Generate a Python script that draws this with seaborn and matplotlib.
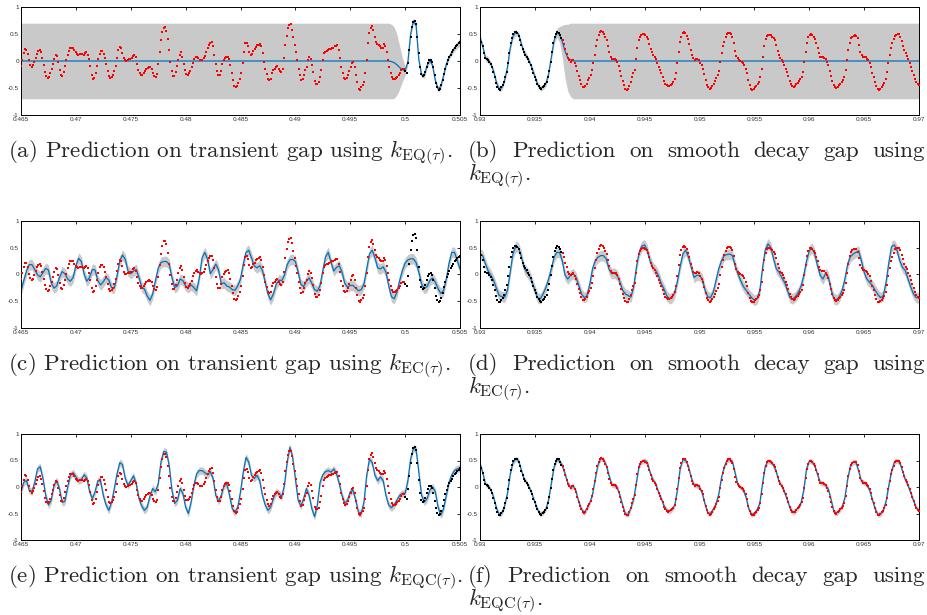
import numpy as np
import matplotlib
matplotlib.use('Agg')
import matplotlib.pyplot as plt
import seaborn as sns

# ---------------- data ----------------
# transient gap recording, 0.465 .. 0.505 s (training window starts at 0.5 s)
sig_left = [
    -0.09, 0.02, 0.14, 0.22, 0.21, 0.13, 0.01, -0.07, -0.11, -0.08,
    -0.01, 0.06, 0.13, 0.18, 0.20, 0.16, 0.05, -0.08, -0.20, -0.28,
    -0.31, -0.29, -0.23, -0.14, -0.05, 0.04, 0.11, 0.09, -0.02, -0.16,
    -0.26, -0.27, -0.21, -0.10, 0.01, 0.11, 0.19, 0.24, 0.25, 0.24,
    0.20, 0.16, 0.13, 0.12, 0.13, 0.13, 0.13, 0.12, 0.14, 0.16,
    0.12, 0.03, -0.10, -0.25, -0.33, -0.31, -0.22, -0.10, 0.03, 0.13,
    0.18, 0.18, 0.13, 0.05, -0.06, -0.19, -0.28, -0.31, -0.29, -0.25,
    -0.19, -0.09, 0.06, 0.20, 0.26, 0.25, 0.15, 0.05, 0.01, 0.00,
    0.02, 0.03, 0.04, 0.05, 0.09, 0.11, 0.07, -0.05, -0.16, -0.23,
    -0.26, -0.26, -0.22, -0.18, -0.15, -0.13, -0.11, -0.12, -0.15, -0.22,
    -0.27, -0.29, -0.24, -0.06, 0.17, 0.38, 0.53, 0.62, 0.63, 0.56,
    0.40, 0.20, -0.01, -0.18, -0.27, -0.27, -0.20, -0.10, 0.02, 0.12,
    0.16, 0.08, -0.05, -0.17, -0.24, -0.25, -0.22, -0.18, -0.12, -0.03,
    0.03, 0.07, 0.08, 0.05, 0.02, 0.01, 0.02, 0.05, 0.10, 0.17,
    0.24, 0.30, 0.34, 0.35, 0.27, 0.11, -0.06, -0.19, -0.26, -0.26,
    -0.18, -0.06, 0.01, 0.05, 0.07, 0.08, 0.03, -0.08, -0.22, -0.36,
    -0.46, -0.49, -0.47, -0.40,
    -0.33, -0.22, -0.04, 0.17, 0.33, 0.34, 0.28, 0.17, 0.11, 0.13,
    0.19, 0.22, 0.26, 0.29, 0.30, 0.32, 0.27, 0.14, -0.01, -0.14,
    -0.24, -0.33, -0.35, -0.33, -0.23, -0.17, -0.14, -0.11, -0.09, -0.14,
    -0.18, -0.20, -0.14, 0.05, 0.30, 0.47, 0.61, 0.67, 0.68, 0.58,
    0.44, 0.30, 0.16, 0.02, -0.14, -0.26, -0.35, -0.34, -0.25, -0.17,
    -0.11, 0.01, 0.07, 0.03, -0.07, -0.20, -0.37, -0.42, -0.42, -0.39,
    -0.29, -0.17, 0.02, 0.14, 0.17, 0.19, 0.20, 0.22, 0.23, 0.24,
    0.25, 0.27, 0.28, 0.29, 0.20, 0.05, -0.12, -0.23, -0.31, -0.34,
    -0.32, -0.26, -0.18, -0.11, -0.03, -0.01, -0.11, -0.26, -0.39, -0.51,
    -0.53, -0.49, -0.45, -0.39, -0.23, 0.02, 0.33, 0.52, 0.61, 0.64,
    0.57, 0.45, 0.36, 0.32, 0.30, 0.27, 0.24, 0.25, 0.31, 0.27,
    0.16, 0.02, -0.11, -0.22, -0.30, -0.34, -0.34, -0.32, -0.29, -0.26,
    -0.22, -0.17, -0.14, -0.14, -0.18, -0.22, -0.04, 0.20, 0.45, 0.63,
    0.73, 0.75, 0.69, 0.45, 0.14, -0.11, -0.24, -0.28, -0.26, -0.20,
    -0.11, -0.04, 0.01, 0.02, -0.01, -0.11, -0.26, -0.40, -0.49, -0.53,
    -0.51, -0.45, -0.35, -0.24, -0.14, -0.06, 0.01, 0.07, 0.11, 0.16,
    0.20, 0.24, 0.27, 0.30, 0.33, 0.35,
]
# smooth decay recording, 0.93 .. 0.97 s (training window ends at 0.9375 s)
sig_right = [
    0.44, 0.36, 0.27, 0.14, 0.05, 0.03, 0.02, -0.01, -0.06, -0.11,
    -0.20, -0.30, -0.40, -0.48, -0.52, -0.53, -0.49, -0.45, -0.39, -0.30,
    -0.20, -0.04, 0.14, 0.33, 0.42, 0.50, 0.53, 0.53, 0.52, 0.47,
    0.39, 0.30, 0.22, 0.16, 0.11, 0.08, 0.03, -0.01, -0.07, -0.14,
    -0.22, -0.29, -0.35, -0.42, -0.47, -0.50, -0.52, -0.49, -0.47, -0.43,
    -0.39, -0.30, -0.18, -0.01, 0.16, 0.33, 0.44, 0.50, 0.53, 0.52,
    0.48, 0.42, 0.39, 0.32, 0.22, 0.13, 0.05, 0.01, -0.01, 0.01,
    0.02, -0.03, -0.09, -0.18, -0.28, -0.35, -0.42, -0.48, -0.49, -0.47,
    -0.42, -0.35, -0.32, -0.26, -0.17, -0.04, 0.11, 0.27, 0.39, 0.48,
    0.53, 0.55, 0.53, 0.50, 0.44, 0.38, 0.27, 0.16, 0.07, 0.03,
    0.03, 0.03, 0.02, -0.02, -0.09, -0.18, -0.28, -0.37, -0.45, -0.51,
    -0.53, -0.52, -0.47, -0.39, -0.30, -0.23, -0.16, 0.03, 0.24, 0.38,
    0.44, 0.48, 0.50, 0.50, 0.48, 0.45, 0.40, 0.32, 0.22, 0.16,
    0.11, 0.08, 0.03, -0.04, -0.11, -0.17, -0.23, -0.29, -0.37, -0.42,
    -0.45, -0.47, -0.46, -0.44, -0.42, -0.39, -0.34, -0.23, -0.04, 0.17,
    0.36, 0.45, 0.52, 0.53, 0.52, 0.47, 0.40, 0.32, 0.20, 0.11,
    0.05, 0.02, 0.03, 0.04, 0.02, -0.04,
    -0.08, -0.14, -0.24, -0.35, -0.44, -0.49, -0.52, -0.50, -0.47, -0.42,
    -0.37, -0.32, -0.26, -0.18, -0.01, 0.14, 0.27, 0.36, 0.44, 0.50,
    0.52, 0.52, 0.50, 0.45, 0.34, 0.19, 0.09, 0.05, 0.02, 0.00,
    -0.01, -0.03, -0.07, -0.14, -0.23, -0.35, -0.45, -0.51, -0.53, -0.52,
    -0.49, -0.47, -0.43, -0.39, -0.30, -0.14, 0.08, 0.27, 0.40, 0.47,
    0.49, 0.49, 0.48, 0.45, 0.42, 0.38, 0.30, 0.19, 0.11, 0.05,
    0.02, -0.01, -0.07, -0.14, -0.20, -0.28, -0.37, -0.43, -0.47, -0.48,
    -0.47, -0.43, -0.40, -0.37, -0.34, -0.29, -0.20, -0.01, 0.17, 0.34,
    0.44, 0.49, 0.50, 0.48, 0.44, 0.40, 0.33, 0.24, 0.14, 0.08,
    0.07, 0.07, 0.06, 0.03, -0.01, -0.07, -0.18, -0.28, -0.37, -0.45,
    -0.49, -0.50, -0.48, -0.45, -0.42, -0.39, -0.35, -0.30, -0.17, 0.02,
    0.20, 0.34, 0.42, 0.45, 0.47, 0.48, 0.47, 0.42, 0.30, 0.17,
    0.11, 0.08, 0.08, 0.07, 0.04, 0.01, -0.04, -0.12, -0.22, -0.30,
    -0.39, -0.47, -0.52, -0.53, -0.51, -0.48, -0.45, -0.40, -0.34, -0.20,
    -0.04, 0.11, 0.24, 0.33, 0.40, 0.47, 0.49, 0.50, 0.50, 0.45,
    0.37, 0.28, 0.20, 0.14, 0.09, 0.03, -0.04, -0.11, -0.18, -0.26,
    -0.34, -0.39, -0.43, -0.45,
]
left_range = (0.465, 0.505)
right_range = (0.93, 0.97)
train_start_left = 0.49995
train_end_right = 0.9375

# predictive means (grid step 0.00025 s, 161 values per panel)
mean_a_tail = [0.00, -0.01, -0.03, -0.07, -0.12, -0.16, -0.18, -0.02, 0.50, 0.74,
               0.66, 0.02, -0.26, -0.27, -0.08, 0.01, -0.08, -0.36, -0.52, -0.47,
               -0.27, -0.06, 0.07, 0.16, 0.24, 0.30, 0.35]
hw_a_tail = [0.70, 0.69, 0.66, 0.56, 0.40, 0.22, 0.09, 0.05, 0.05, 0.05,
             0.05, 0.05, 0.05, 0.05, 0.05, 0.05, 0.05, 0.05, 0.05, 0.05,
             0.05, 0.05, 0.05, 0.055, 0.06, 0.065, 0.07]
mean_b_head = [0.44, 0.27, 0.05, 0.02, -0.06, -0.20, -0.40, -0.52, -0.49, -0.35,
               -0.12, 0.24, 0.46, 0.53, 0.50, 0.33, 0.16, 0.08, -0.01, -0.14,
               -0.29, -0.43, -0.51, -0.48, -0.42, -0.24, 0.07, 0.38, 0.52, 0.49,
               0.36, 0.18, 0.06, 0.02, 0.00]
hw_b_head = [0.05, 0.05, 0.06, 0.06, 0.05, 0.05, 0.05, 0.05, 0.05, 0.05,
             0.05, 0.06, 0.06, 0.06, 0.05, 0.05, 0.06, 0.06, 0.05, 0.05,
             0.05, 0.05, 0.05, 0.05, 0.05, 0.05, 0.06, 0.07, 0.08, 0.15,
             0.30, 0.50, 0.62, 0.68, 0.70]
gap_sd = 0.70
mean_c = [
    -0.31, -0.12, 0.06, 0.18, 0.18, 0.09, -0.01, -0.05, 0.03, 0.11,
    0.08, -0.16, -0.26, -0.22, -0.06, 0.05, 0.01, -0.09, -0.13, -0.06,
    0.16, 0.30, 0.24, 0.00, -0.13, -0.06, 0.09, 0.08, -0.12, -0.20,
    -0.14, -0.06, -0.11, -0.25, -0.26, -0.03, 0.25, 0.36, 0.28, 0.06,
    0.01, 0.06, 0.09, -0.06, -0.24, -0.28, -0.41, -0.49, -0.37, -0.12,
    0.11, 0.22, 0.24, 0.24, 0.19, -0.06, -0.25, -0.22, -0.09, -0.12,
    -0.22, -0.25, -0.20, -0.25, -0.31, -0.06, 0.31, 0.41, 0.28, 0.01,
    0.09, 0.19, 0.08, -0.18, -0.16, -0.22, -0.24, -0.29, -0.30, -0.22,
    -0.09, 0.19, 0.41, 0.45, 0.31, 0.16, 0.12, 0.16, 0.07, -0.15,
    -0.37, -0.48, -0.37, -0.19, -0.11, -0.12, -0.02, 0.18, 0.27, 0.28,
    0.24, 0.04, -0.19, -0.23, -0.13, -0.07, -0.17, -0.29, -0.32, -0.21,
    0.07, 0.33, 0.41, 0.22, 0.06, 0.13, 0.16, 0.04, -0.17, -0.24,
    -0.21, -0.21, -0.26, -0.31, -0.29, -0.18, 0.10, 0.38, 0.45, 0.31,
    0.12, 0.10, 0.14, 0.04, -0.21, -0.42, -0.46, -0.34, -0.12, 0.07,
    0.21, 0.27, 0.29, 0.29, 0.22, 0.04, -0.19, -0.27, -0.23, -0.12,
    -0.07, -0.15, -0.27, -0.36, -0.31, -0.09, 0.21, 0.41, 0.41, 0.26,
    0.10,
]
mean_d = [
    0.38, 0.35, 0.19, 0.06, -0.02, -0.12, -0.27, -0.40, -0.42, -0.43,
    -0.30, 0.04, 0.38, 0.52, 0.50, 0.35, 0.13, 0.04, -0.02, -0.15,
    -0.30, -0.44, -0.46, -0.37, -0.25, -0.09, 0.10, 0.32, 0.41, 0.41,
    0.25, -0.02, -0.09, -0.02, 0.01, -0.06, -0.21, -0.37, -0.44, -0.40,
    -0.19, 0.10, 0.25, 0.32, 0.35, 0.35, 0.29, 0.10, 0.01, 0.02,
    -0.02, -0.15, -0.30, -0.37, -0.40, -0.43, -0.24, 0.13, 0.41, 0.53,
    0.55, 0.45, 0.25, 0.13, 0.07, -0.02, -0.17, -0.27, -0.40, -0.46,
    -0.44, -0.34, -0.12, 0.16, 0.39, 0.45, 0.32, 0.13, -0.06, -0.02,
    -0.02, -0.09, -0.30, -0.42, -0.44, -0.34, -0.12, 0.10, 0.25, 0.35,
    0.37, 0.38, 0.35, 0.16, 0.01, -0.12, -0.23, -0.30, -0.37, -0.44,
    -0.49, -0.46, -0.30, 0.13, 0.47, 0.57, 0.50, 0.29, 0.10, 0.04,
    -0.06, -0.15, -0.30, -0.44, -0.46, -0.42, -0.34, -0.23, -0.02, 0.25,
    0.44, 0.49, 0.38, 0.16, -0.02, -0.09, 0.02, -0.06, -0.30, -0.46,
    -0.48, -0.42, -0.30, -0.09, 0.19, 0.33, 0.38, 0.41, 0.44, 0.25,
    0.04, -0.09, -0.15, -0.21, -0.30, -0.38, -0.44, -0.40, -0.15, 0.22,
    0.52, 0.55, 0.45, 0.25, 0.13, 0.07, -0.09, -0.24, -0.37, -0.44,
    -0.44,
]
mean_e = [
    -0.09, 0.09, 0.12, -0.06, -0.09, 0.09, 0.34, 0.38, 0.16, -0.16,
    -0.34, -0.25, 0.03, 0.12, -0.03, -0.29, -0.27, 0.00, 0.22, 0.27,
    0.19, 0.12, 0.14, 0.23, 0.17, -0.09, -0.22, -0.09, 0.12, 0.11,
    -0.16, -0.34, -0.44, -0.29, -0.03, 0.25, 0.46, 0.42, 0.16, 0.03,
    0.12, 0.21, 0.06, -0.22, -0.36, -0.44, -0.38, -0.17, -0.03, -0.09,
    0.06, 0.47, 0.67, 0.66, 0.41, -0.06, -0.31, -0.25, -0.03, -0.12,
    -0.38, -0.50, -0.28, 0.03, 0.25, 0.31, 0.31, 0.27, 0.23, 0.29,
    0.16, -0.16, -0.27, -0.16, 0.03, 0.06, -0.16, -0.41, -0.48, -0.38,
    -0.09, 0.28, 0.56, 0.47, 0.22, 0.16, 0.22, 0.12, -0.16, -0.34,
    -0.44, -0.38, -0.21, -0.09, -0.12, -0.19, 0.03, 0.47, 0.75, 0.56,
    0.16, -0.25, -0.36, -0.22, -0.03, -0.16, -0.41, -0.56, -0.34, 0.09,
    0.23, 0.29, 0.31, 0.28, 0.34, 0.25, 0.06, -0.16, -0.31, -0.25,
    -0.09, -0.06, -0.25, -0.48, -0.50, -0.28, 0.22, 0.53, 0.46, 0.22,
    0.12, 0.19, 0.12, -0.16, -0.34, -0.39, -0.34, -0.25, -0.16, -0.12,
    -0.12, 0.12, 0.53, 0.73, 0.71, 0.28, -0.16, -0.28, -0.22, -0.06,
    0.00, -0.09, -0.38, -0.53, -0.41, -0.16, 0.09, 0.23, 0.31, 0.34,
    0.36,
]
mean_f = [
    0.44, 0.27, 0.05, 0.02, -0.06, -0.20, -0.40, -0.52, -0.49, -0.35,
    -0.12, 0.24, 0.46, 0.53, 0.50, 0.33, 0.16, 0.08, -0.01, -0.14,
    -0.29, -0.43, -0.51, -0.48, -0.42, -0.24, 0.07, 0.38, 0.52, 0.49,
    0.40, 0.25, 0.07, -0.01, 0.02, -0.09, -0.28, -0.42, -0.49, -0.40,
    -0.30, -0.14, 0.15, 0.42, 0.54, 0.52, 0.41, 0.22, 0.05, 0.03,
    -0.01, -0.16, -0.35, -0.51, -0.52, -0.39, -0.23, 0.08, 0.40, 0.48,
    0.50, 0.46, 0.27, 0.14, 0.06, -0.09, -0.21, -0.35, -0.44, -0.46,
    -0.42, -0.34, -0.04, 0.36, 0.52, 0.50, 0.38, 0.17, 0.04, 0.03,
    0.00, -0.12, -0.32, -0.49, -0.50, -0.42, -0.32, -0.14, 0.17, 0.38,
    0.50, 0.52, 0.48, 0.26, 0.04, -0.01, -0.06, -0.20, -0.42, -0.52,
    -0.50, -0.43, -0.30, 0.08, 0.40, 0.49, 0.47, 0.41, 0.28, 0.10,
    0.02, -0.10, -0.24, -0.40, -0.48, -0.45, -0.38, -0.30, -0.06, 0.34,
    0.49, 0.48, 0.40, 0.24, 0.08, 0.07, 0.03, -0.05, -0.25, -0.47,
    -0.49, -0.44, -0.37, -0.20, 0.15, 0.40, 0.47, 0.47, 0.30, 0.11,
    0.08, 0.04, -0.06, -0.24, -0.41, -0.52, -0.51, -0.43, -0.27, 0.03,
    0.30, 0.47, 0.50, 0.46, 0.30, 0.14, 0.03, -0.11, -0.26, -0.39,
    -0.45,
]
band_c, band_d, band_e, band_f = 0.10, 0.10, 0.07, 0.05

xticks_left = [0.465, 0.47, 0.475, 0.48, 0.485, 0.49, 0.495, 0.5, 0.505]
xticks_right = [0.93, 0.935, 0.94, 0.945, 0.95, 0.955, 0.96, 0.965, 0.97]
yticks = [-1, -0.5, 0, 0.5, 1]

captions = [
    ("(a) Prediction on transient gap using $k_{\\mathrm{EQ}(\\tau)}$.", None),
    ("(b) Prediction on smooth decay gap using", "$k_{\\mathrm{EQ}(\\tau)}$."),
    ("(c) Prediction on transient gap using $k_{\\mathrm{EC}(\\tau)}$.", None),
    ("(d) Prediction on smooth decay gap using", "$k_{\\mathrm{EC}(\\tau)}$."),
    ("(e) Prediction on transient gap using $k_{\\mathrm{EQC}(\\tau)}$.", None),
    ("(f) Prediction on smooth decay gap using", "$k_{\\mathrm{EQC}(\\tau)}$."),
]

# ---------------- derived arrays ----------------
sig_left = np.array(sig_left)
sig_right = np.array(sig_right)
t_sig_left = np.linspace(*left_range, len(sig_left))
t_sig_right = np.linspace(*right_range, len(sig_right))
t_mean_left = np.linspace(*left_range, 161)
t_mean_right = np.linspace(*right_range, 161)

mean_a = np.concatenate([np.zeros(161 - len(mean_a_tail)), mean_a_tail])
hw_a = np.concatenate([np.full(161 - len(hw_a_tail), gap_sd), hw_a_tail])
mean_b = np.concatenate([mean_b_head, np.zeros(161 - len(mean_b_head))])
hw_b = np.concatenate([hw_b_head, np.full(161 - len(hw_b_head), gap_sd)])

# ---------------- styling ----------------
sns.set_style('white')
plt.rcParams['mathtext.fontset'] = 'cm'
plt.rcParams['font.family'] = ['Liberation Sans', 'DejaVu Sans']

W, H = 927, 615
fig = plt.figure(figsize=(W / 100, H / 100), dpi=100)

BLUE = '#0072BD'
BAND = '#c9c9c9'
TICKC = '#333333'


def add_ax(x0, y0, x1, y1):
    return fig.add_axes([x0 / W, 1 - y1 / H, (x1 - x0) / W, (y1 - y0) / H])


def panel(ax, t_sig, sig, train_mask, t_mean, mean, hw, xlim, xticks):
    mean = np.asarray(mean, dtype=float)
    ax.fill_between(t_mean, mean - hw, mean + hw, color=BAND, lw=0, zorder=1)
    sns.lineplot(x=t_mean, y=mean, ax=ax, color=BLUE, lw=0.9,
                 estimator=None, sort=False, zorder=2)
    sns.scatterplot(x=t_sig[~train_mask], y=sig[~train_mask], ax=ax,
                    color='red', marker='s', s=2.6, linewidth=0, zorder=3,
                    legend=False)
    sns.scatterplot(x=t_sig[train_mask], y=sig[train_mask], ax=ax,
                    color='black', marker='s', s=2.6, linewidth=0, zorder=3,
                    legend=False)
    ax.set_xlim(*xlim)
    ax.set_ylim(-1, 1)
    ax.set_xticks(xticks)
    ax.set_xticklabels([f'{v:g}' for v in xticks])
    ax.set_yticks(yticks)
    ax.set_yticklabels([f'{v:g}' for v in yticks])
    ax.tick_params(direction='in', top=True, right=True, length=2.5,
                   width=0.6, labelsize=4.6, pad=1.5, colors='black',
                   labelcolor=TICKC)
    for s in ax.spines.values():
        s.set_linewidth(0.7)
        s.set_color('black')
        s.set_visible(True)
    ax.set_xlabel('')
    ax.set_ylabel('')


rows = [(7, 115), (221, 327.5), (434, 540)]
cols = [(21, 460), (480, 919)]

mask_left = t_sig_left >= train_start_left
mask_right = t_sig_right <= train_end_right

means_left = [(mean_a, hw_a), (mean_c, band_c), (mean_e, band_e)]
means_right = [(mean_b, hw_b), (mean_d, band_d), (mean_f, band_f)]

for r, (y0, y1) in enumerate(rows):
    axl = add_ax(cols[0][0], y0, cols[0][1], y1)
    m, hw = means_left[r]
    panel(axl, t_sig_left, sig_left, mask_left, t_mean_left, m, hw,
          left_range, xticks_left)
    axr = add_ax(cols[1][0], y0, cols[1][1], y1)
    m, hw = means_right[r]
    panel(axr, t_sig_right, sig_right, mask_right, t_mean_right, m, hw,
          right_range, xticks_right)

# ---------------- captions ----------------
CAP_SIZE = 16.6
CAP_FONT = 'cmr10'
cap_base = [157, 370, 582]
line_gap = 23

renderer = fig.canvas.get_renderer()


def justified(text, x0, x1, ybase):
    words = text.split(' ')
    tx = [fig.text(0, 1 - ybase / H, w, fontsize=CAP_SIZE, family=CAP_FONT,
                   va='baseline', ha='left') for w in words]
    widths = [t.get_window_extent(renderer).width for t in tx]
    gap = ((x1 - x0) - sum(widths)) / (len(words) - 1)
    x = x0
    for t, w in zip(tx, widths):
        t.set_x(x / W)
        x += w + gap


for r in range(3):
    yb = cap_base[r]
    left_txt = captions[2 * r][0]
    fig.text(8 / W, 1 - yb / H, left_txt, fontsize=CAP_SIZE, family=CAP_FONT,
             va='baseline', ha='left')
    l1, l2 = captions[2 * r + 1]
    justified(l1, 468, 925, yb)
    fig.text(468 / W, 1 - (yb + line_gap) / H, l2, fontsize=CAP_SIZE,
             family=CAP_FONT, va='baseline', ha='left')

fig.savefig('out.png', dpi=100)
